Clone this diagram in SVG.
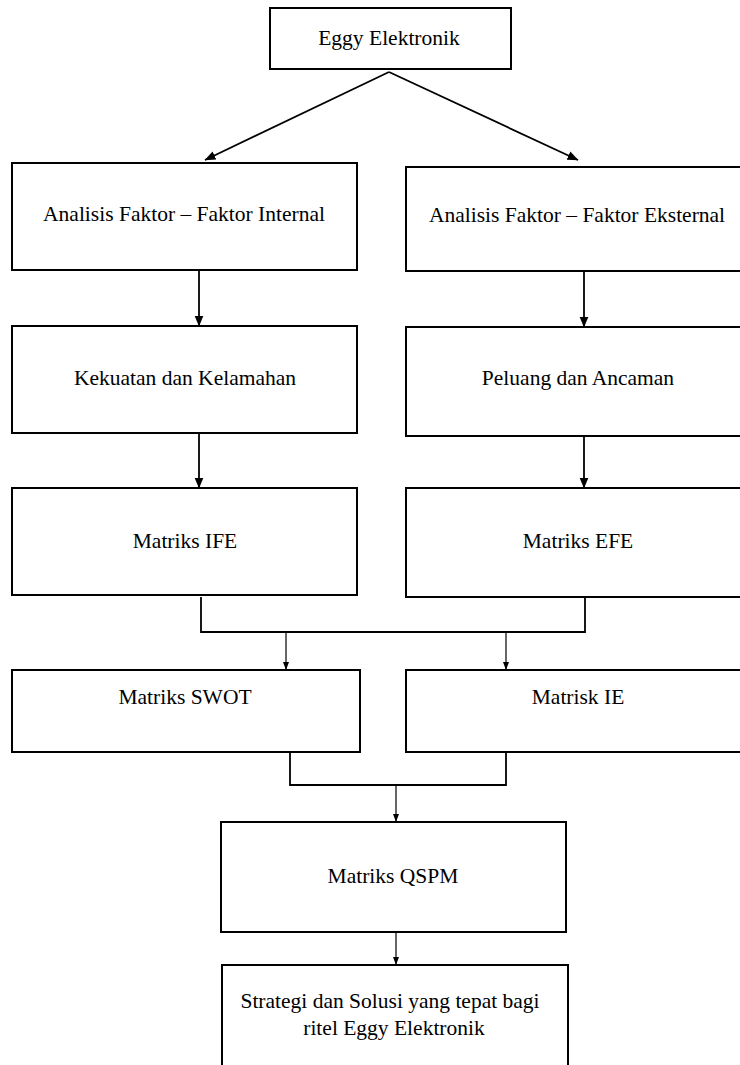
<svg xmlns="http://www.w3.org/2000/svg" width="740" height="1065" viewBox="0 0 740 1065">
<style>
.box{fill:#fff;stroke:#000;stroke-width:2}
text{font-family:'Liberation Serif','Times New Roman','DejaVu Serif',serif;font-size:21.5px;fill:#000;text-anchor:middle}
.c{fill:none;stroke:#000;stroke-width:1.8}
.c2{fill:none;stroke:#000;stroke-width:1.2}
</style>
<defs>
<marker id="ah" markerWidth="11" markerHeight="10" refX="10.5" refY="5" orient="auto" markerUnits="userSpaceOnUse"><path d="M0,0.5 L11,5 L0,9.5 z" fill="#000"/></marker>
<marker id="ahs" markerWidth="8" markerHeight="6" refX="8" refY="3" orient="auto" markerUnits="userSpaceOnUse"><path d="M0,0 L8,3 L0,6 z" fill="#000"/></marker>
</defs>
<rect width="740" height="1065" fill="#fff"/>
<g id="connectors">
<line class="c" x1="389" y1="72" x2="205" y2="160" marker-end="url(#ah)"/>
<line class="c" x1="389" y1="72" x2="578" y2="160" marker-end="url(#ah)"/>
<line class="c" x1="199" y1="270" x2="199" y2="326" marker-end="url(#ah)"/>
<line class="c" x1="584" y1="271" x2="584" y2="327" marker-end="url(#ah)"/>
<line class="c" x1="199" y1="433" x2="199" y2="488" marker-end="url(#ah)"/>
<line class="c" x1="584" y1="436" x2="584" y2="488" marker-end="url(#ah)"/>
<polyline class="c" points="201,597 201,632 585,632 585,597"/>
<line class="c2" x1="286" y1="632" x2="286" y2="670" marker-end="url(#ahs)"/>
<line class="c2" x1="506" y1="632" x2="506" y2="670" marker-end="url(#ahs)"/>
<polyline class="c" points="290,752 290,785 506,785 506,752"/>
<line class="c2" x1="396" y1="785" x2="396" y2="822" marker-end="url(#ahs)"/>
<line class="c2" x1="396" y1="932" x2="396" y2="965" marker-end="url(#ahs)"/>
</g>
<g id="n-eggy"><rect class="box" x="270" y="8" width="241" height="61"/><text x="389" y="45">Eggy Elektronik</text></g>
<g id="n-internal"><rect class="box" x="12" y="163" width="345" height="107"/><text x="184" y="221">Analisis Faktor – Faktor Internal</text></g>
<g id="n-eksternal"><rect class="box" x="406" y="167" width="360" height="104"/><text x="577" y="222">Analisis Faktor – Faktor Eksternal</text></g>
<g id="n-kekuatan"><rect class="box" x="12" y="326" width="345" height="107"/><text x="185" y="385">Kekuatan dan Kelamahan</text></g>
<g id="n-peluang"><rect class="box" x="406" y="327" width="360" height="109"/><text x="578" y="385">Peluang dan Ancaman</text></g>
<g id="n-ife"><rect class="box" x="12" y="488" width="345" height="107"/><text x="185" y="548">Matriks IFE</text></g>
<g id="n-efe"><rect class="box" x="406" y="488" width="360" height="109"/><text x="578" y="548">Matriks EFE</text></g>
<g id="n-swot"><rect class="box" x="12" y="670" width="348" height="82"/><text x="185" y="704">Matriks SWOT</text></g>
<g id="n-ie"><rect class="box" x="406" y="670" width="360" height="82"/><text x="578" y="704">Matrisk IE</text></g>
<g id="n-qspm"><rect class="box" x="221" y="822" width="345" height="110"/><text x="393" y="883">Matriks QSPM</text></g>
<g id="n-strategi"><rect class="box" x="222" y="965" width="346" height="120"/><text x="390" y="1008">Strategi dan Solusi yang tepat bagi</text><text x="394" y="1035">ritel Eggy Elektronik</text></g>
</svg>
